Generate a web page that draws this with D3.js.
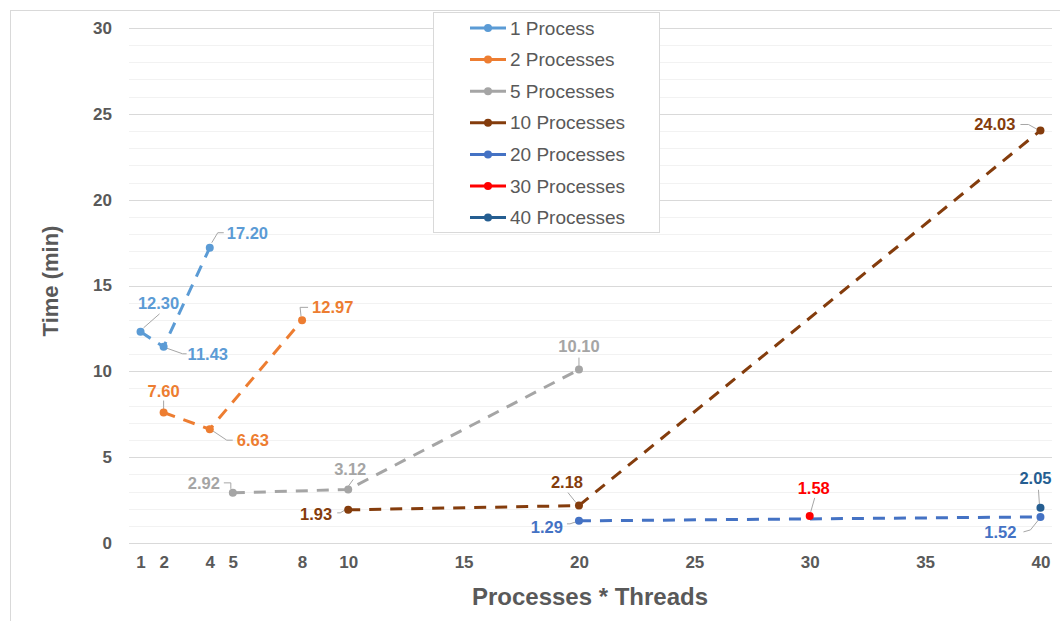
<!DOCTYPE html>
<html>
<head>
<meta charset="utf-8">
<script src="https://cdn.jsdelivr.net/npm/d3@7/dist/d3.min.js"></script>
<style>
  html, body { margin: 0; padding: 0; background: #fff; }
  svg { display: block; font-family: "Liberation Sans", Arial, sans-serif; }
</style>
</head>
<body>
<svg id="chart" width="1060" height="621"></svg>
<script>
// ---- data ----
const seriesNames = ["1 Process", "2 Processes", "5 Processes", "10 Processes", "20 Processes", "30 Processes", "40 Processes"];
const seriesColors = ["#5B9BD5", "#ED7D31", "#A5A5A5", "#843C0C", "#4472C4", "#FF0000", "#255E91"];
const s1 = [[1, 12.30], [2, 11.43], [4, 17.20]];
const s2 = [[2, 7.60], [4, 6.63], [8, 12.97]];
const s5 = [[5, 2.92], [10, 3.12], [20, 10.10]];
const s10 = [[10, 1.93], [20, 2.18], [40, 24.03]];
const s20 = [[20, 1.29], [40, 1.52]];
const s30 = [[30, 1.58]];
const s40 = [[40, 2.05]];
const seriesValues = [s1, s2, s5, s10, s20, s30, s40];
const xTicks = [1, 2, 4, 5, 8, 10, 15, 20, 25, 30, 35, 40];
const yTicks = [0, 5, 10, 15, 20, 25, 30];

// label layout: [seriesIndex, pointIndex, anchor, dx, dy, leader points]
const labelLayout = [
  [0, 0, "middle", 18, -29, [[3, -4], [19, -18]]],
  [0, 1, "start", 24, 7, [[2, 1], [19, 7], [23, 7]]],
  [0, 2, "start", 17, -15, [[2, -5], [8, -15], [14, -15]]],
  [1, 0, "middle", 0, -22, [[0, -3], [0, -12]]],
  [1, 1, "start", 27, 11, [[2, 1], [17, 11], [23, 11]]],
  [1, 2, "start", 10, -13, [[-1, -4], [-2, -13], [6, -13]]],
  [2, 0, "end", -13, -10, [[-2, -4], [-2, -10], [-9, -10]]],
  [2, 1, "middle", 2, -20, [[0, -3], [5, -10]]],
  [2, 2, "middle", 0, -24, [[0, -3], [0, -12]]],
  [3, 0, "end", -16, 4, [[-3, 0], [-8, 3], [-11, 3]]],
  [3, 1, "middle", -12, -24, [[-3, -3], [-11, -13]]],
  [3, 2, "end", -25, -6, [[-3, -1], [-12, -6], [-20, -6]]],
  [4, 0, "end", -16, 6, [[-3, 1], [-9, 3], [-12, 3]]],
  [4, 1, "end", -24, 15, [[-2, 3], [-10, 13], [-17, 15]]],
  [5, 0, "middle", 4, -28, [[1, -4], [5, -18]]],
  [6, 0, "middle", -5, -30, [[-1, -3], [-2, -18]]]
];

// ---- setup ----
const svg = d3.select("#chart");
const textColor = "#595959";
const x = d3.scaleLinear().domain([0.5, 40.5]).range([129, 1052]);
const y = d3.scaleLinear().domain([0, 30]).range([543, 28]);

// chart border (top & left visible)
svg.append("rect").attr("x", 10.5).attr("y", 10.5).attr("width", 1100).attr("height", 700)
  .attr("fill", "none").attr("stroke", "#D9D9D9").attr("stroke-width", 1);

// minor gridlines
const minor = d3.range(1, 30).filter(v => v % 5 !== 0);
svg.append("g").selectAll("line").data(minor).join("line")
  .attr("x1", x.range()[0]).attr("x2", x.range()[1])
  .attr("y1", d => Math.round(y(d)) + 0.5).attr("y2", d => Math.round(y(d)) + 0.5)
  .attr("stroke", "#F2F2F2").attr("stroke-width", 1);
// major gridlines
svg.append("g").selectAll("line").data(yTicks).join("line")
  .attr("x1", x.range()[0]).attr("x2", x.range()[1])
  .attr("y1", d => Math.round(y(d)) + 0.5).attr("y2", d => Math.round(y(d)) + 0.5)
  .attr("stroke", "#D9D9D9").attr("stroke-width", 1);

// y axis
const yAxis = d3.axisLeft(y).tickValues(yTicks).tickSize(0).tickPadding(0);
const gy = svg.append("g").attr("transform", "translate(112,0)").call(yAxis);
gy.select(".domain").remove();
gy.selectAll("text").attr("fill", textColor).style("font-size", "17px").style("font-weight", "bold")
  .style("font-family", "'Liberation Sans', Arial, sans-serif");

// x axis
const xAxis = d3.axisBottom(x).tickValues(xTicks).tickSize(0).tickPadding(0);
const gx = svg.append("g").attr("transform", "translate(0,556)").call(xAxis);
gx.select(".domain").remove();
gx.selectAll("text").attr("fill", textColor).style("font-size", "17px").style("font-weight", "bold")
  .style("font-family", "'Liberation Sans', Arial, sans-serif");

// axis titles
svg.append("text").attr("transform", "translate(58,281) rotate(-90)")
  .attr("text-anchor", "middle").attr("fill", textColor)
  .style("font-size", "22px").style("font-weight", "bold").text("Time (min)");
svg.append("text").attr("x", 590).attr("y", 605)
  .attr("text-anchor", "middle").attr("fill", textColor)
  .style("font-size", "24px").style("font-weight", "bold").text("Processes * Threads");

// lines
const line = d3.line().x(d => x(d[0])).y(d => y(d[1]));
seriesValues.forEach((vals, i) => {
  if (vals.length > 1) {
    svg.append("path").datum(vals).attr("d", line)
      .attr("fill", "none").attr("stroke", seriesColors[i]).attr("stroke-width", 3)
      .attr("stroke-dasharray", "12,9");
  }
});

// leader lines and labels
const leaderLine = d3.line();
labelLayout.forEach(([si, pi, anchor, dx, dy, pts]) => {
  const d = seriesValues[si][pi];
  const px = x(d[0]), py = y(d[1]);
  svg.append("path").attr("d", leaderLine(pts.map(p => [px + p[0], py + p[1]])))
    .attr("fill", "none").attr("stroke", "#A6A6A6").attr("stroke-width", 1);
  svg.append("text").attr("x", px + dx).attr("y", py + dy)
    .attr("text-anchor", anchor).attr("dominant-baseline", "central")
    .attr("fill", seriesColors[si]).style("font-size", "16.5px").style("font-weight", "bold")
    .text(d[1].toFixed(2));
});

// markers
seriesValues.forEach((vals, i) => {
  svg.append("g").selectAll("circle").data(vals).join("circle")
    .attr("cx", d => x(d[0])).attr("cy", d => y(d[1])).attr("r", 4)
    .attr("fill", seriesColors[i]);
});

// legend
const legend = svg.append("g");
legend.append("rect").attr("x", 433.5).attr("y", 12.5).attr("width", 226).attr("height", 220)
  .attr("fill", "#fff").attr("stroke", "#D9D9D9");
seriesNames.forEach((name, i) => {
  const ly = 28 + i * 31.6;
  legend.append("line").attr("x1", 470).attr("x2", 506).attr("y1", ly).attr("y2", ly)
    .attr("stroke", seriesColors[i]).attr("stroke-width", 3);
  legend.append("circle").attr("cx", 488).attr("cy", ly).attr("r", 4).attr("fill", seriesColors[i]);
  legend.append("text").attr("x", 510).attr("y", ly).attr("dominant-baseline", "central")
    .attr("fill", textColor).style("font-size", "19px").text(name);
});
</script>
</body>
</html>
